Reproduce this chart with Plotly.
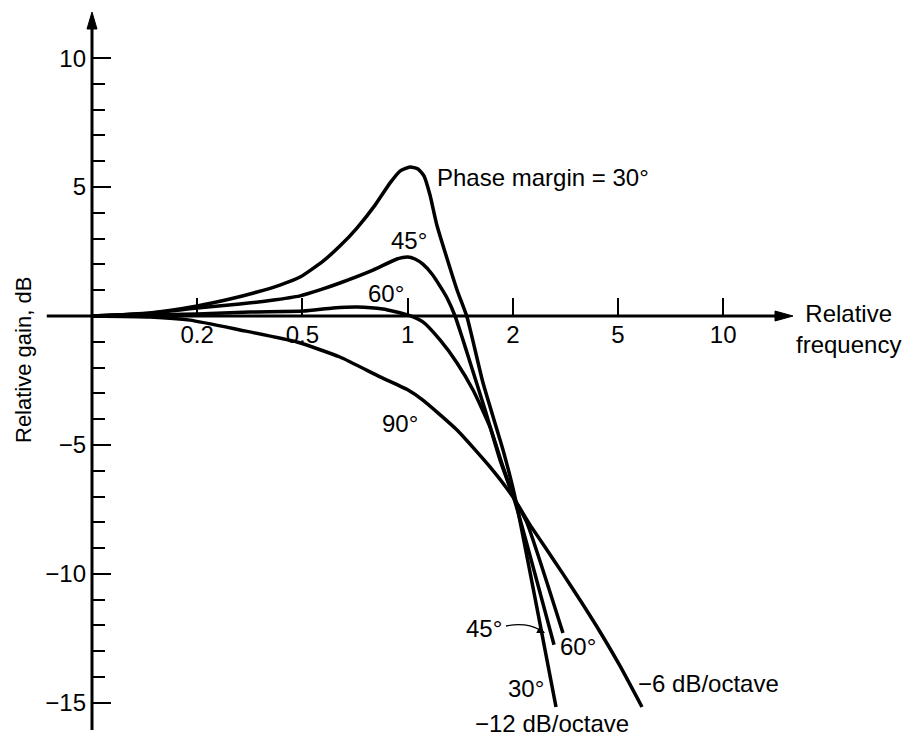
import numpy as np
import plotly.graph_objects as go

# ---------------- data ----------------
tick_freqs = [0.1, 0.2, 0.5, 1, 2, 5, 10]          # equally spaced positions on the schematic axis
tick_labels = ["0.2", "0.5", "1", "2", "5", "10"]
gain_ticks = [-15, -10, -5, 5, 10]
gain_tick_labels = ["\u221215", "\u221210", "\u22125", "5", "10"]
gain_minor = [-14, -13, -12, -11, -9, -8, -7, -6, -4, -3, -2, -1, 1, 2, 3, 4, 6, 7, 8, 9]

freq_30 = [0.1, 0.1465, 0.2, 0.266, 0.337, 0.411, 0.49, 0.573, 0.640, 0.716, 0.807, 0.891,
           0.951, 1.016, 1.071, 1.114, 1.159, 1.213, 1.385, 1.479, 1.644, 1.875, 2.039, 2.914]
gain_30 = [0, 0.12, 0.39, 0.66, 0.93, 1.20, 1.51, 2.13, 2.71, 3.41, 4.30, 5.16,
           5.62, 5.78, 5.70, 5.43, 4.69, 3.52, 1.01, -0.04, -2.60, -5.19, -7.02, -15.16]

freq_45 = [0.1, 0.1465, 0.2, 0.29, 0.377, 0.49, 0.561, 0.64, 0.796, 0.932, 1.0, 1.050,
           1.106, 1.174, 1.238, 1.297, 1.367, 1.431, 1.508, 1.666, 1.838, 2.039, 2.864]
gain_45 = [0, 0.11, 0.31, 0.465, 0.60, 0.78, 1.01, 1.28, 1.78, 2.21, 2.29, 2.21,
           2.01, 1.63, 1.16, 0.70, 0, -0.81, -1.78, -3.64, -5.58, -7.21, -12.75]

freq_60 = [0.1, 0.2, 0.317, 0.502, 0.612, 0.716, 0.85, 1.0, 1.106, 1.238, 1.385, 1.539,
           1.721, 1.875, 2.039, 2.263, 3.096]
gain_60 = [0, 0.08, 0.155, 0.19, 0.31, 0.35, 0.27, 0.04, -0.23, -0.93, -1.82, -2.87,
           -4.30, -5.85, -7.13, -8.02, -12.29]

freq_90 = [0.1, 0.1465, 0.1908, 0.29, 0.477, 0.64, 0.834, 1.003, 1.106, 1.385, 1.721,
           2.004, 2.324, 2.694, 3.096, 3.592, 4.162, 5.066, 5.856]
gain_90 = [0, -0.04, -0.16, -0.54, -1.01, -1.59, -2.36, -2.87, -3.26, -4.42, -5.85,
           -7.02, -8.10, -9.07, -10.0, -11.01, -12.05, -13.57, -15.16]

# ---------------- helpers ----------------
OFF = 8                      # default body margin of the html page
W, H = 910 - OFF, 738 - OFF  # figure size so that it fits in the window
idx = np.arange(len(tick_freqs))
UX, UY = 105.2, 25.79        # px per axis step / px per dB
ORIGIN_X, ORIGIN_Y = 92 - OFF, 316 - OFF


def pos(f):
    """Relative frequency -> position on the schematic (1-2-5 equally spaced) axis."""
    return np.interp(np.log10(f), np.log10(tick_freqs), idx)


def PX(x):  # page pixel -> paper
    return (x - OFF) / W


def PY(y):
    return 1 - (y - OFF) / H


FONT = "Liberation Sans, Arial, Helvetica, sans-serif"
FS = 24
X0, X1 = -ORIGIN_X / UX, (W - ORIGIN_X) / UX
Y0, Y1 = -(H - ORIGIN_Y) / UY, ORIGIN_Y / UY

fig = go.Figure()
for fx, gy in [(freq_90, gain_90), (freq_60, gain_60), (freq_45, gain_45), (freq_30, gain_30)]:
    fig.add_trace(go.Scatter(
        x=pos(fx), y=gy, mode="lines",
        line=dict(color="black", width=3.5, shape="spline", smoothing=0.5),
        hoverinfo="skip", showlegend=False))

fig.update_layout(
    width=W, height=H,
    margin=dict(l=0, r=0, t=0, b=0),
    paper_bgcolor="white", plot_bgcolor="white",
    showlegend=False,
    font=dict(family=FONT, size=FS, color="black"),
    xaxis=dict(
        range=[X0, X1], showgrid=False, zeroline=False, showline=False,
        tickmode="array", tickvals=list(idx[1:]), ticktext=tick_labels,
        ticks="inside", ticklen=18, tickwidth=1.5, tickcolor="black",
        anchor="free", position=(H - ORIGIN_Y) / H, side="bottom",
        ticklabelstandoff=2, tickfont=dict(size=FS, family=FONT),
    ),
    yaxis=dict(
        range=[Y0, Y1], showgrid=False, zeroline=False, showline=False,
        tickmode="array", tickvals=gain_ticks, ticktext=gain_tick_labels,
        ticks="inside", ticklen=18, tickwidth=1.5, tickcolor="black",
        minor=dict(tickmode="array", tickvals=gain_minor, ticks="inside",
                   ticklen=12, tickwidth=2.2, tickcolor="black"),
        anchor="free", position=ORIGIN_X / W, side="left",
        ticklabelstandoff=6, tickfont=dict(size=FS, family=FONT),
    ),
)

# axis lines and arrowheads
fig.add_shape(type="line", x0=0, x1=0, y0=-16.05, y1=11.3, xref="x", yref="y",
              line=dict(color="black", width=3))
fig.add_shape(type="line", x0=-0.43, x1=6.55, y0=0, y1=0, xref="x", yref="y",
              line=dict(color="black", width=3))
fig.add_shape(type="path", xref="x", yref="y",
              path=f"M 0,{(316-12)/UY} L {-5/UX},{(316-29)/UY} L {5/UX},{(316-29)/UY} Z",
              fillcolor="black", line=dict(color="black", width=1))
fig.add_shape(type="path", xref="x", yref="y",
              path=f"M {(793-92)/UX},0 L {(775-92)/UX},{5/UY} L {(775-92)/UX},{-5/UY} Z",
              fillcolor="black", line=dict(color="black", width=1))

# curved pointer for the lower 45° label
fig.add_shape(type="path", xref="paper", yref="paper",
              path=f"M {PX(506)},{PY(626)} Q {PX(526)},{PY(622)} {PX(540)},{PY(630)}",
              line=dict(color="black", width=1.3))
fig.add_annotation(x=PX(545), y=PY(633), xref="paper", yref="paper", ax=-8, ay=-4,
                   axref="pixel", ayref="pixel", text="", showarrow=True,
                   arrowhead=2, arrowsize=1.2, arrowwidth=1.3, arrowcolor="black")


def label(text, x, y, xanchor="center", angle=0, size=FS):
    fig.add_annotation(x=PX(x), y=PY(y), xref="paper", yref="paper", text=text,
                       showarrow=False, xanchor=xanchor, yanchor="middle",
                       textangle=angle, borderpad=0,
                       font=dict(size=size, family=FONT, color="black"))


label("Phase margin = 30°", 436, 177, "left")
label("45°", 409, 240)
label("60°", 386, 293)
label("90°", 400, 423)
label("45°", 484, 628)
label("60°", 578, 646)
label("30°", 526, 688)
label("\u22126 dB/octave", 637, 683, "left")
label("\u221212 dB/octave", 552, 723)
label("Relative<br>frequency", 795, 329, "left")
label("Relative gain, dB", 23, 360, angle=-90, size=22)

fig.write_html("out.html")
